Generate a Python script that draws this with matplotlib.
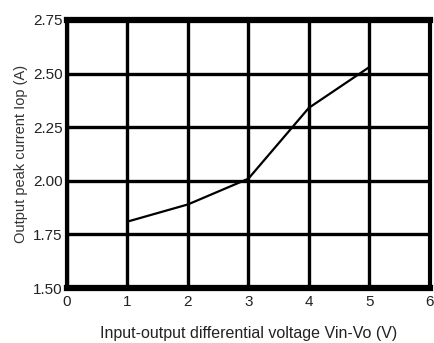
import matplotlib
matplotlib.use("Agg")
import matplotlib.pyplot as plt

# Output peak current vs input-output differential voltage
vdiff = [1, 2, 3, 4, 5]
iop = [1.81, 1.89, 2.01, 2.34, 2.53]

xticks = [0, 1, 2, 3, 4, 5, 6]
yticks = [1.50, 1.75, 2.00, 2.25, 2.50, 2.75]

plt.rcParams['font.family'] = ['Liberation Sans', 'DejaVu Sans']

fig = plt.figure(figsize=(4.35, 3.43), dpi=100)
ax = fig.add_axes([0.154, 0.160, 0.834, 0.782])

ax.plot(vdiff, iop, color='black', linewidth=1.6, zorder=3)

ax.set_xlim(0, 6)
ax.set_ylim(1.5, 2.75)
ax.set_xticks(xticks)
ax.set_yticks(yticks)
ax.set_yticklabels([f"{v:.2f}" for v in yticks])
ax.grid(True, color='black', linewidth=2.4)
ax.tick_params(length=0, labelsize=11, colors='#222222')
ax.tick_params(axis='x', pad=5)
ax.tick_params(axis='y', pad=3)

for side in ['top', 'bottom']:
    ax.spines[side].set_linewidth(4.5)
for side in ['left', 'right']:
    ax.spines[side].set_linewidth(3)

ax.set_xlabel("Input-output differential voltage Vin-Vo (V)", fontsize=11.5, color='#222222', labelpad=12)
ax.set_ylabel("Output peak current Iop (A)", fontsize=10.5, color='#333333', labelpad=4)

fig.savefig("out.png", dpi=100)
